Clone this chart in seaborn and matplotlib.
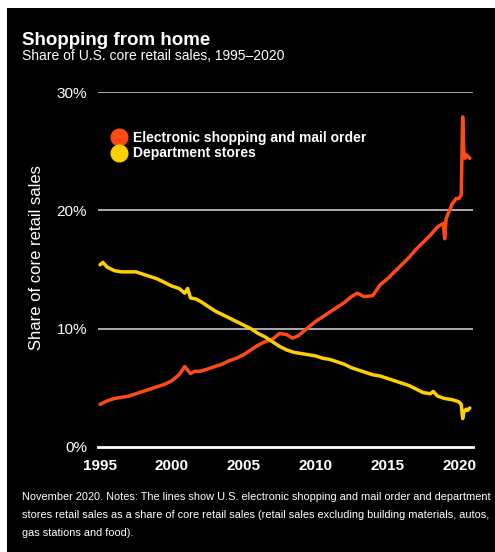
import matplotlib
matplotlib.use("Agg")
import matplotlib.pyplot as plt
from matplotlib.lines import Line2D
from matplotlib.patches import Rectangle
import seaborn as sns
import pandas as pd

# ---------------- data ----------------
ecom_years = [1995.0, 1995.5, 1996.0, 1996.5, 1997.0, 1997.5, 1998.0, 1998.5, 1999.0, 1999.5,
              2000.0, 2000.5, 2000.9, 2001.3, 2001.6, 2002.0, 2002.5, 2003.0, 2003.5, 2004.0,
              2004.5, 2005.0, 2005.5, 2006.0, 2006.5, 2007.0, 2007.5, 2008.0, 2008.4, 2008.8,
              2009.3, 2009.7, 2010.0, 2010.5, 2011.0, 2011.5, 2012.0, 2012.5, 2012.9, 2013.4,
              2014.0, 2014.5, 2015.0, 2015.5, 2016.0, 2016.5, 2017.0, 2017.5, 2018.0, 2018.5,
              2018.9, 2019.0, 2019.1, 2019.5, 2019.8, 2020.0, 2020.15, 2020.25, 2020.33, 2020.42,
              2020.5, 2020.58, 2020.67, 2020.75]
ecom_share = [3.6, 3.9, 4.1, 4.2, 4.3, 4.5, 4.7, 4.9, 5.1, 5.3,
              5.6, 6.1, 6.8, 6.2, 6.4, 6.4, 6.6, 6.8, 7.0, 7.3,
              7.5, 7.8, 8.2, 8.6, 8.9, 9.1, 9.6, 9.5, 9.2, 9.4,
              9.9, 10.3, 10.6, 11.0, 11.4, 11.8, 12.2, 12.7, 13.0, 12.7,
              12.8, 13.7, 14.2, 14.8, 15.4, 16.0, 16.7, 17.3, 17.9, 18.6,
              18.9, 17.6, 19.3, 20.5, 21.0, 21.0, 21.3, 27.9, 25.0, 24.4,
              24.7, 24.6, 24.5, 24.4]

dept_years = [1995.0, 1995.2, 1995.5, 1996.0, 1996.5, 1997.0, 1997.5, 1998.0, 1998.5, 1999.0,
              1999.5, 2000.0, 2000.5, 2000.9, 2001.1, 2001.3, 2001.7, 2002.0, 2002.5, 2003.0,
              2003.5, 2004.0, 2004.5, 2005.0, 2005.5, 2006.0, 2006.5, 2007.0, 2007.5, 2008.0,
              2008.5, 2009.0, 2009.5, 2010.0, 2010.5, 2011.0, 2011.5, 2012.0, 2012.5, 2013.0,
              2013.5, 2014.0, 2014.5, 2015.0, 2015.5, 2016.0, 2016.5, 2017.0, 2017.5, 2018.0,
              2018.2, 2018.5, 2019.0, 2019.5, 2019.8, 2020.0, 2020.15, 2020.25, 2020.33, 2020.42,
              2020.5, 2020.6, 2020.75]
dept_share = [15.4, 15.6, 15.2, 14.9, 14.8, 14.8, 14.8, 14.6, 14.4, 14.2,
              13.9, 13.6, 13.4, 13.0, 13.4, 12.6, 12.5, 12.3, 11.9, 11.5,
              11.2, 10.9, 10.6, 10.3, 10.0, 9.6, 9.3, 8.9, 8.5, 8.2,
              8.0, 7.9, 7.8, 7.7, 7.5, 7.4, 7.2, 7.0, 6.7, 6.5,
              6.3, 6.1, 6.0, 5.8, 5.6, 5.4, 5.2, 4.9, 4.6, 4.5,
              4.7, 4.3, 4.1, 4.0, 3.9, 3.8, 3.6, 2.4, 2.9, 3.1,
              3.2, 3.1, 3.3]

series_names = ["Electronic shopping and mail order", "Department stores"]
series_colors = ["#FF4A14", "#FFD000"]
y_ticks = [0, 10, 20, 30]
y_tick_labels = ["0%", "10%", "20%", "30%"]
x_ticks = [1995, 2000, 2005, 2010, 2015, 2020]

title = "Shopping from home"
subtitle = "Share of U.S. core retail sales, 1995\u20132020"
ylabel = "Share of core retail sales"
note = ("November 2020. Notes: The lines show U.S. electronic shopping and mail order and department\n"
        "stores retail sales as a share of core retail sales (retail sales excluding building materials, autos,\n"
        "gas stations and food).")

# ---------------- figure ----------------
sns.set_style("dark")
fam = ["Liberation Sans", "DejaVu Sans"]
plt.rcParams["font.family"] = fam

df = pd.concat([
    pd.DataFrame({"year": ecom_years, "share": ecom_share, "series": series_names[0]}),
    pd.DataFrame({"year": dept_years, "share": dept_share, "series": series_names[1]}),
], ignore_index=True)

fig = plt.figure(figsize=(4.95, 5.52), dpi=100)
fig.patch.set_facecolor("white")
fig.patches.append(Rectangle((7 / 495, 0), 1 - 7 / 495, 1 - 8 / 552,
                             transform=fig.transFigure, facecolor="black",
                             edgecolor="none", zorder=-10))

ax = fig.add_axes([98 / 495, 105 / 552, 375 / 495, 355 / 552])
ax.set_facecolor("black")

sns.lineplot(data=df, x="year", y="share", hue="series", palette=series_colors,
             hue_order=series_names, linewidth=2.5, ax=ax, legend=False,
             estimator=None, sort=False)
for ln in ax.lines:
    ln.set_clip_on(False)
    ln.set_solid_joinstyle("round")

ax.set_xlim(1994.86, 2020.97)
ax.set_ylim(0, 30)
ax.set_yticks(y_ticks)
ax.set_yticklabels(y_tick_labels)
ax.set_xticks(x_ticks)
ax.set_xticklabels([str(x) for x in x_ticks])
ax.grid(False)
for t in [10, 20, 30]:
    ax.axhline(t, color="#d9d9d9", linewidth=1.1, zorder=0)

for s in ["top", "right", "left"]:
    ax.spines[s].set_visible(False)
ax.spines["bottom"].set_color("white")
ax.spines["bottom"].set_linewidth(2)
ax.tick_params(axis="x", colors="white", direction="out", length=4, width=2, pad=5,
               labelsize=11)
ax.tick_params(axis="y", colors="white", length=0, pad=8, labelsize=11)
for lab in ax.get_xticklabels():
    lab.set_fontweight("bold")
ax.set_xlabel("")
ax.set_ylabel(ylabel, color="white", fontsize=12)
ax.yaxis.set_label_coords(-0.145, 0.535)

handles = [Line2D([], [], marker="o", linestyle="none", markersize=12,
                  markerfacecolor=c, markeredgecolor=c) for c in series_colors]
leg = ax.legend(handles, series_names, loc="upper left", bbox_to_anchor=(0.005, 0.905),
                frameon=False, handletextpad=0.0, labelspacing=0.08, borderaxespad=0,
                prop={"weight": "bold", "size": 10})
for t in leg.get_texts():
    t.set_color("white")

fig.text(22 / 495, 1 - 45 / 552, title, color="white", fontsize=13.5, fontweight="bold",
         va="baseline")
fig.text(22 / 495, 1 - 60 / 552, subtitle, color="white", fontsize=10, va="baseline")
fig.text(22 / 495, 1 - 492 / 552, note, color="white", fontsize=7.9, va="top",
         linespacing=2.0)

fig.savefig("out.png", dpi=100, facecolor=fig.get_facecolor())
